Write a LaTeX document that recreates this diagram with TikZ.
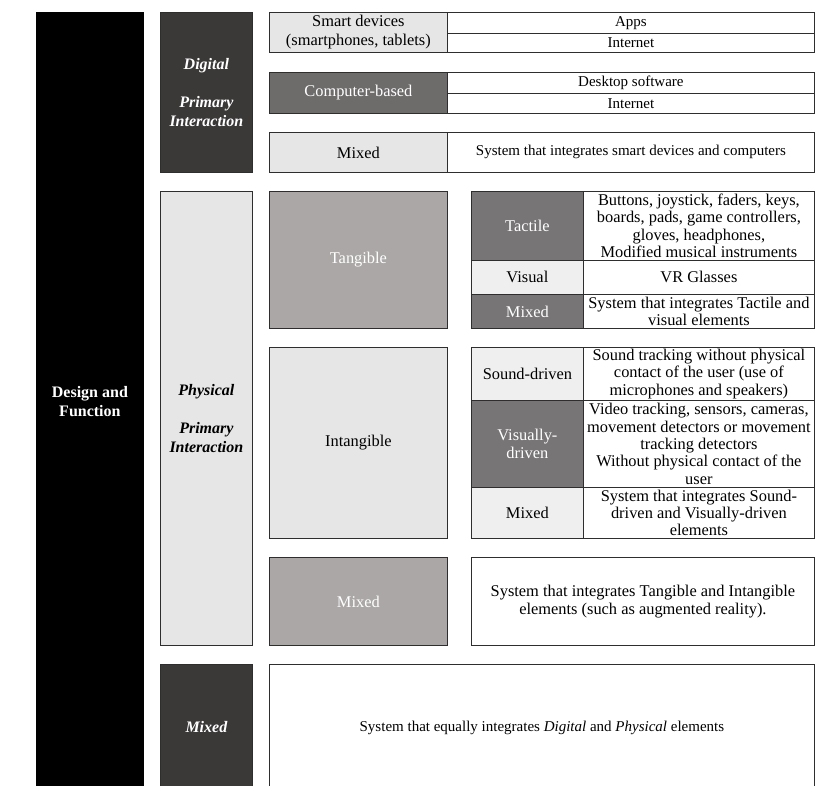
\documentclass[tikz,border=0pt]{standalone}
\usepackage{fontspec}
\setmainfont{Liberation Serif}
\definecolor{darkC}{HTML}{3B3838}
\definecolor{lightC}{HTML}{E7E6E6}
\definecolor{midC}{HTML}{6E6B6B}
\definecolor{tangC}{HTML}{AAA7A6}
\definecolor{tactC}{HTML}{777575}
\definecolor{paleC}{HTML}{EFEFEF}
\definecolor{lineC}{HTML}{2E2E2E}
\newcommand\cellbox[7]{\node[box,#6,minimum width=#4pt,minimum height=#5pt] (#1) at (#2,#3) {#7};}
\begin{document}
\begin{tikzpicture}[x=1pt,y=-1pt,
  box/.style={draw=lineC,line width=0.8pt,inner sep=0pt,anchor=north west,align=center,
    font=\fontsize{16.4}{17.4}\selectfont},
  small/.style={font=\fontsize{15}{17.4}\selectfont},
  whitetext/.style={text=white},
  head/.style={font=\fontsize{16}{18.8}\selectfont\bfseries\itshape}]
\useasboundingbox (0,0) rectangle (829,785);
\clip (0,0) rectangle (829,785);
\fill[white] (0,0) rectangle (829,785);
% main column
\cellbox{design}{36}{12}{107}{778}{fill=black,draw=black,whitetext,font=\fontsize{16}{18.8}\selectfont\bfseries}{Design and\\Function}
% Digital
\cellbox{digital}{160}{12}{92}{160}{fill=darkC,whitetext,head}{Digital\\[18.8pt]Primary\\Interaction}
\cellbox{smart}{269}{12}{178}{40}{fill=lightC,font=\fontsize{16.4}{19}\selectfont}{Smart devices\\(smartphones, tablets)}
\cellbox{apps}{447}{12}{367}{21}{fill=white,small}{Apps}
\cellbox{inet1}{447}{33}{367}{19}{fill=white,small}{Internet}
\cellbox{computer}{269}{72}{178}{41}{fill=midC,whitetext}{Computer-based}
\cellbox{desktop}{447}{72}{367}{21}{fill=white,small}{Desktop software}
\cellbox{inet2}{447}{93}{367}{20}{fill=white,small}{Internet}
\cellbox{dmixed}{269}{132}{178}{40}{fill=lightC}{Mixed}
\cellbox{dmixedtxt}{447}{132}{367}{40}{fill=white,small}{System that integrates smart devices and computers}
% Physical
\cellbox{physical}{160}{191}{92}{454}{fill=lightC,head}{Physical\\[18.8pt]Primary\\Interaction}
\cellbox{tangible}{269}{191}{178}{137}{fill=tangC,whitetext}{Tangible}
\cellbox{tactile}{471}{191}{112}{69}{fill=tactC,whitetext}{Tactile}
\cellbox{tactiletxt}{583}{191}{231}{69}{fill=white}{Buttons, joystick, faders, keys,\\boards, pads, game controllers,\\gloves, headphones,\\Modified musical instruments}
\cellbox{visual}{471}{260}{112}{34}{fill=paleC}{Visual}
\cellbox{visualtxt}{583}{260}{231}{34}{fill=white}{VR Glasses}
\cellbox{tmixed}{471}{294}{112}{34}{fill=tactC,whitetext}{Mixed}
\cellbox{tmixedtxt}{583}{294}{231}{34}{fill=white}{System that integrates Tactile and\\visual elements}
\cellbox{intangible}{269}{347}{178}{191}{fill=lightC}{Intangible}
\cellbox{sound}{471}{347}{112}{53}{fill=paleC}{Sound-driven}
\cellbox{soundtxt}{583}{347}{231}{53}{fill=white}{Sound tracking without physical\\contact of the user (use of\\microphones and speakers)}
\cellbox{visually}{471}{400}{112}{87}{fill=tactC,whitetext}{Visually-\\driven}
\cellbox{visuallytxt}{583}{400}{231}{87}{fill=white}{Video tracking, sensors, cameras,\\movement detectors or movement\\tracking detectors\\Without physical contact of the\\user}
\cellbox{imixed}{471}{487}{112}{51}{fill=paleC}{Mixed}
\cellbox{imixedtxt}{583}{487}{231}{51}{fill=white}{System that integrates Sound-\\driven and Visually-driven\\elements}
\cellbox{pmixed}{269}{557}{178}{88}{fill=tangC,whitetext}{Mixed}
\cellbox{pmixedtxt}{471}{557}{343}{88}{fill=white}{System that integrates Tangible and Intangible\\elements (such as augmented reality).}
% Mixed
\cellbox{mixed}{160}{664}{92}{126}{fill=darkC,whitetext,head}{Mixed}
\cellbox{mixedtxt}{269}{664}{545}{126}{fill=white,small}{System that equally integrates \textit{Digital} and \textit{Physical} elements}
\end{tikzpicture}
\end{document}
